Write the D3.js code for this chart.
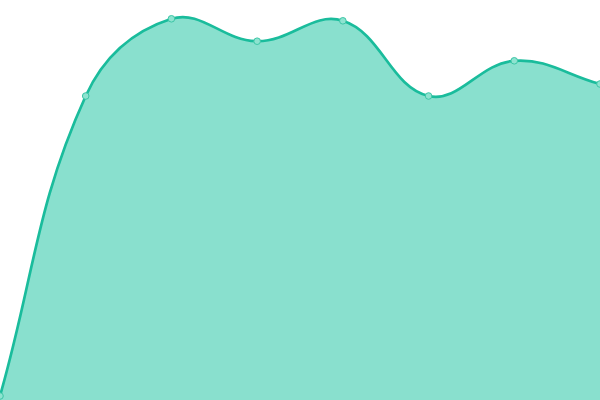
<!DOCTYPE html>
<html>
<head>
<meta charset="utf-8">
<script src="https://cdn.jsdelivr.net/npm/d3@7"></script>
<style>
html,body{margin:0;padding:0;background:#fff;overflow:hidden;}
svg{display:block;}
</style>
</head>
<body>
<svg id="chart" width="600" height="400"></svg>
<script>
const categories = ["1","2","3","4","5","6","7","8"];
const values = [1, 76, 95.3, 89.7, 94.8, 76, 84.8, 79];

const W = 600, H = 400;
const x = d3.scalePoint().domain(categories).range([0, W]);
const y = d3.scaleLinear().domain([0, 100]).range([H, 0]);

const svg = d3.select("#chart");
const pts = categories.map((c, i) => [x(c), y(values[i])]);

// Chart.js-style spline (tension 0.4)
function splinePath(p, t, ctx) {
  const n = p.length;
  const cps = p.map((cur, i) => {
    const prev = i > 0 ? p[i - 1] : cur;
    const next = i < n - 1 ? p[i + 1] : cur;
    const d01 = Math.hypot(cur[0] - prev[0], cur[1] - prev[1]);
    const d12 = Math.hypot(next[0] - cur[0], next[1] - cur[1]);
    let s01 = d01 / (d01 + d12), s12 = d12 / (d01 + d12);
    if (isNaN(s01)) s01 = 0; if (isNaN(s12)) s12 = 0;
    const fa = t * s01, fb = t * s12;
    return {
      prev: [cur[0] - fa * (next[0] - prev[0]), cur[1] - fa * (next[1] - prev[1])],
      next: [cur[0] + fb * (next[0] - prev[0]), cur[1] + fb * (next[1] - prev[1])]
    };
  });
  ctx.moveTo(p[0][0], p[0][1]);
  for (let i = 1; i < n; i++) {
    const a = cps[i - 1].next, b = cps[i].prev;
    ctx.bezierCurveTo(a[0], a[1], b[0], b[1], p[i][0], p[i][1]);
  }
  return ctx;
}

const areaPath = splinePath(pts, 0.4, d3.path());
areaPath.lineTo(x(categories[categories.length - 1]), y(0));
areaPath.lineTo(x(categories[0]), y(0));
areaPath.closePath();

svg.append("path")
  .attr("d", areaPath.toString())
  .attr("fill", "#89e0ce")
  .attr("stroke", "none");

svg.append("path")
  .attr("d", splinePath(pts, 0.4, d3.path()).toString())
  .attr("fill", "none")
  .attr("stroke", "#1abc9c")
  .attr("stroke-width", 2.7);

svg.selectAll("circle.pt")
  .data(values)
  .enter().append("circle")
  .attr("class", "pt")
  .attr("cx", (d, i) => x(categories[i]))
  .attr("cy", d => y(d))
  .attr("r", 3.3)
  .attr("fill", "#8ee3d0")
  .attr("stroke", "#3cc6a6")
  .attr("stroke-width", 1);
</script>
</body>
</html>
